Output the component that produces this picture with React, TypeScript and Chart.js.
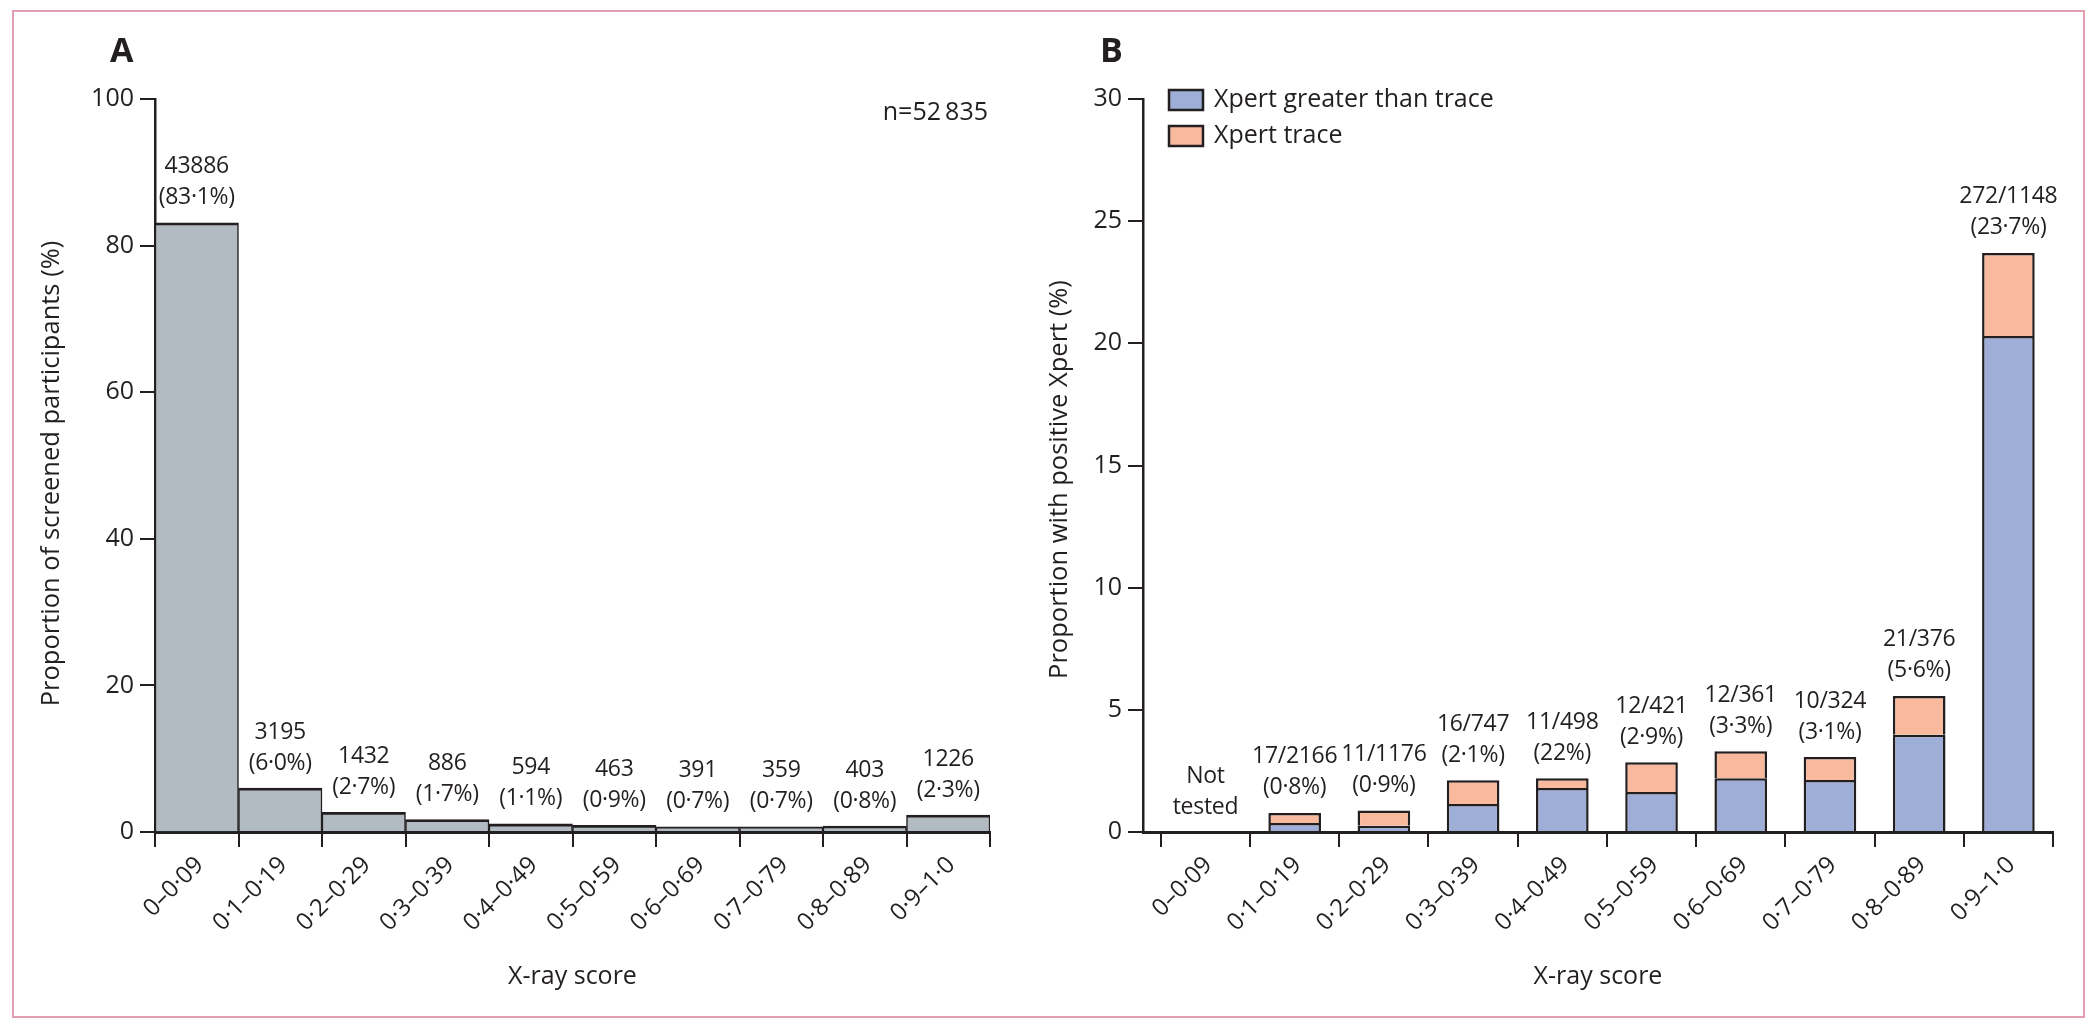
import React, { useEffect, useRef } from "react";
import { Chart, registerables } from "chart.js";

Chart.register(...registerables);

// ---------- shared data ----------
const categories = [
  "0–0·09", "0·1–0·19", "0·2–0·29", "0·3–0·39", "0·4–0·49",
  "0·5–0·59", "0·6–0·69", "0·7–0·79", "0·8–0·89", "0·9–1·0",
];
const xAxisTitle = "X-ray score";

// ---------- panel A ----------
const screenedPercent = [83.1, 6.0, 2.7, 1.7, 1.1, 0.9, 0.7, 0.7, 0.8, 2.3];
const screenedCounts = ["43886", "3195", "1432", "886", "594", "463", "391", "359", "403", "1226"];
const screenedPctLabels = ["(83·1%)", "(6·0%)", "(2·7%)", "(1·7%)", "(1·1%)", "(0·9%)", "(0·7%)", "(0·7%)", "(0·8%)", "(2·3%)"];
const screenedNote = "n=52\u2009835";
const yTicksA = [0, 20, 40, 60, 80, 100];
const yTitleA = "Proportion of screened participants (%)";

// ---------- panel B ----------
const greaterThanTrace = [null, 0.37, 0.26, 1.15, 1.8, 1.64, 2.2, 2.13, 3.98, 20.3];
const traceOnly = [null, 0.41, 0.62, 0.97, 0.4, 1.21, 1.1, 0.94, 1.59, 3.4];
const positiveFractions = ["Not", "17/2166", "11/1176", "16/747", "11/498", "12/421", "12/361", "10/324", "21/376", "272/1148"];
const positivePctLabels = ["tested", "(0·8%)", "(0·9%)", "(2·1%)", "(22%)", "(2·9%)", "(3·3%)", "(3·1%)", "(5·6%)", "(23·7%)"];
const seriesNames = ["Xpert greater than trace", "Xpert trace"];
const yTicksB = [0, 5, 10, 15, 20, 25, 30];
const yTitleB = "Proportion with positive Xpert (%)";

// ---------- styles ----------
const FONT = '"Open Sans", "DejaVu Sans", sans-serif';
const INK = "#231f20";
const GREY = "#b3bbc2";
const BLUE = "#9eaed7";
const PEACH = "#f8b99d";

function xScale(min: number) {
  return {
    type: "linear",
    min,
    max: categories.length - 0.5,
    offset: false,
    stacked: true,
    afterBuildTicks: (s: any) => {
      s.ticks = categories.map((_, i) => ({ value: i }));
    },
    afterFit: (s: any) => {
      s.height = 188;
    },
    grid: {
      offset: true,
      drawOnChartArea: false,
      drawTicks: true,
      tickLength: 15,
      color: INK,
      lineWidth: 2,
    },
    border: { display: true, color: INK, width: 3 },
    ticks: {
      autoSkip: false,
      minRotation: 45,
      maxRotation: 45,
      padding: 4,
      labelOffset: 3,
      color: INK,
      font: { family: FONT, size: 24 },
      callback: (v: any) => categories[v] ?? "",
    },
  };
}

function yScale(ticks: number[], width: number) {
  return {
    type: "linear",
    min: ticks[0],
    max: ticks[ticks.length - 1],
    stacked: true,
    afterBuildTicks: (s: any) => {
      s.ticks = ticks.map((v) => ({ value: v }));
    },
    afterFit: (s: any) => {
      s.width = width;
    },
    grid: { drawOnChartArea: false, drawTicks: true, tickLength: 15, color: INK, lineWidth: 2 },
    border: { display: true, color: INK, width: 2.5 },
    ticks: { padding: 6, color: INK, font: { family: FONT, size: 25 } },
  };
}

function barLabelsPlugin(line1: string[], line2: string[], totals: number[]) {
  return {
    id: "barLabels",
    afterDatasetsDraw(chart: any) {
      const { ctx, scales } = chart;
      const x = scales.x;
      const y = scales.y;
      ctx.save();
      ctx.font = `23px ${FONT}`;
      try {
        (ctx as any).letterSpacing = "-0.3px";
      } catch (e) {}
      ctx.fillStyle = INK;
      ctx.textAlign = "center";
      ctx.textBaseline = "middle";
      totals.forEach((t, i) => {
        const px = x.getPixelForValue(i);
        const top = y.getPixelForValue(t);
        ctx.fillText(line1[i], px, top - 56);
        ctx.fillText(line2[i], px, top - 25);
      });
      ctx.restore();
    },
  };
}

function decorPlugin(opts: {
  letter: string;
  letterX: number;
  yTitle: string;
  yTitleDx: number;
  yTitleDy: number;
  note?: string;
  legend?: boolean;
}) {
  return {
    id: "decor",
    afterDraw(chart: any) {
      const { ctx, chartArea } = chart;
      const { left, right, top, bottom } = chartArea;
      ctx.save();
      ctx.fillStyle = INK;
      // panel letter
      ctx.font = `bold 34px ${FONT}`;
      ctx.textAlign = "left";
      ctx.textBaseline = "alphabetic";
      ctx.fillText(opts.letter, opts.letterX, 62);
      // x title
      ctx.font = `25px ${FONT}`;
      ctx.textAlign = "center";
      ctx.textBaseline = "middle";
      ctx.fillText(xAxisTitle, (left + right) / 2, bottom + 145);
      // y title
      ctx.save();
      ctx.translate(left + opts.yTitleDx, (top + bottom) / 2 + opts.yTitleDy);
      ctx.rotate(-Math.PI / 2);
      ctx.font = `25.5px ${FONT}`;
      ctx.fillText(opts.yTitle, 0, 0);
      ctx.restore();
      // note
      if (opts.note) {
        ctx.font = `25px ${FONT}`;
        ctx.textAlign = "right";
        ctx.fillText(opts.note, right - 2, top + 14);
      }
      // legend
      if (opts.legend) {
        chart.data.datasets.forEach((ds: any, i: number) => {
          const bx = left + 26;
          const by = top - 9 + i * 36;
          ctx.fillStyle = ds.backgroundColor;
          ctx.fillRect(bx, by, 34, 20);
          ctx.strokeStyle = INK;
          ctx.lineWidth = 2.5;
          ctx.strokeRect(bx, by, 34, 20);
          ctx.fillStyle = INK;
          ctx.font = `25px ${FONT}`;
          ctx.textAlign = "left";
          ctx.textBaseline = "middle";
          ctx.fillText(ds.label, bx + 45, by + 10);
        });
      }
      ctx.restore();
    },
  };
}

function configA(): any {
  return {
    type: "bar",
    data: {
      labels: categories.map((_, i) => i),
      datasets: [
        {
          label: "Screened",
          data: screenedPercent,
          backgroundColor: GREY,
          borderColor: INK,
          borderWidth: { top: 2.8, left: 1.5, right: 1.5, bottom: 0 },
          borderSkipped: false,
          barPercentage: 1,
          categoryPercentage: 1,
        },
      ],
    },
    options: {
      responsive: false,
      animation: false,
      devicePixelRatio: 1,
      events: [],
      layout: { padding: { left: 20, right: 50, top: 99, bottom: 10 } },
      scales: { x: xScale(-0.5), y: yScale(yTicksA, 135) },
      plugins: { legend: { display: false }, tooltip: { enabled: false } },
    },
    plugins: [
      barLabelsPlugin(screenedCounts, screenedPctLabels, screenedPercent),
      decorPlugin({ letter: "A", letterX: 110, yTitle: yTitleA, yTitleDx: -103, yTitleDy: 8, note: screenedNote }),
    ],
  };
}

function configB(): any {
  const totals = greaterThanTrace.map((g, i) => (g ?? 0) + (traceOnly[i] ?? 0));
  return {
    type: "bar",
    data: {
      labels: categories.map((_, i) => i),
      datasets: [
        {
          label: seriesNames[0],
          data: greaterThanTrace,
          backgroundColor: BLUE,
          borderColor: INK,
          borderWidth: 2.5,
          borderSkipped: "start",
          barPercentage: 0.59,
          categoryPercentage: 1,
        },
        {
          label: seriesNames[1],
          data: traceOnly,
          backgroundColor: PEACH,
          borderColor: INK,
          borderWidth: 2.5,
          borderSkipped: "start",
          barPercentage: 0.59,
          categoryPercentage: 1,
        },
      ],
    },
    options: {
      responsive: false,
      animation: false,
      devicePixelRatio: 1,
      events: [],
      layout: { padding: { left: 10, right: 47, top: 99, bottom: 10 } },
      scales: { x: xScale(-0.7), y: yScale(yTicksB, 93) },
      plugins: { legend: { display: false }, tooltip: { enabled: false } },
    },
    plugins: [
      barLabelsPlugin(positiveFractions, positivePctLabels, totals),
      decorPlugin({ letter: "B", letterX: 60, yTitle: yTitleB, yTitleDx: -83, yTitleDy: 14, legend: true }),
    ],
  };
}

export default function App() {
  const refA = useRef<HTMLCanvasElement>(null);
  const refB = useRef<HTMLCanvasElement>(null);

  useEffect(() => {
    const a = new Chart(refA.current as HTMLCanvasElement, configA());
    const b = new Chart(refB.current as HTMLCanvasElement, configB());
    let alive = true;
    const fonts: any = (document as any).fonts;
    if (fonts && fonts.load) {
      Promise.all([fonts.load(`25px "Open Sans"`), fonts.load(`bold 34px "Open Sans"`)])
        .then(() => {
          if (alive) {
            a.update();
            b.update();
          }
        })
        .catch(() => {});
    }
    return () => {
      alive = false;
      a.destroy();
      b.destroy();
    };
  }, []);

  return (
    <div style={{ position: "absolute", left: 0, top: 0, width: 2100, height: 1030, background: "#fff", overflow: "hidden" }}>
      <div
        style={{
          position: "absolute",
          left: 12,
          top: 10,
          width: 2073,
          height: 1008,
          border: "2px solid #e29fb0",
          boxSizing: "border-box",
        }}
      />
      <canvas ref={refA} width={1040} height={1030} style={{ position: "absolute", left: 0, top: 0 }} />
      <canvas ref={refB} width={1060} height={1030} style={{ position: "absolute", left: 1040, top: 0 }} />
    </div>
  );
}
